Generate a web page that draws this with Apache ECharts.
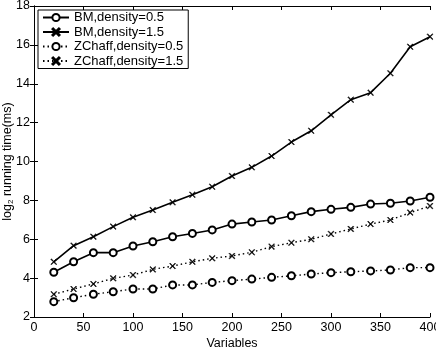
<!DOCTYPE html>
<html>
<head>
<meta charset="utf-8">
<script src="https://cdn.jsdelivr.net/npm/echarts@6/dist/echarts.min.js"></script>
<style>
html, body { margin: 0; padding: 0; background: #fff; }
#chart { width: 436px; height: 352px; }
</style>
</head>
<body>
<div id="chart"></div>
<script>
// number of variables
var variables = [20, 40, 60, 80, 100, 120, 140, 160, 180, 200, 220, 240, 260, 280, 300, 320, 340, 360, 380, 400];
// log2 running time (ms)
var bm05 = [4.30, 4.84, 5.31, 5.31, 5.65, 5.87, 6.13, 6.30, 6.48, 6.78, 6.89, 6.99, 7.21, 7.42, 7.54, 7.64, 7.81, 7.85, 7.97, 8.16];
var bm15 = [4.84, 5.67, 6.13, 6.65, 7.13, 7.50, 7.90, 8.29, 8.70, 9.25, 9.70, 10.28, 11.00, 11.58, 12.40, 13.18, 13.54, 14.54, 15.90, 16.42];
var zc05 = [2.79, 2.99, 3.17, 3.30, 3.44, 3.44, 3.65, 3.65, 3.78, 3.87, 3.95, 4.04, 4.12, 4.21, 4.28, 4.33, 4.37, 4.42, 4.54, 4.54];
var zc15 = [3.17, 3.44, 3.70, 3.99, 4.16, 4.45, 4.62, 4.84, 5.02, 5.14, 5.33, 5.62, 5.82, 6.00, 6.27, 6.53, 6.78, 6.99, 7.37, 7.71];
var names = ['BM,density=0.5', 'BM,density=1.5', 'ZChaff,density=0.5', 'ZChaff,density=1.5'];

var font = 'Liberation Sans, Arial, sans-serif';
var crossSym = 'path://M0,1L1,0L5,4L9,0L10,1L6,5L10,9L9,10L5,6L1,10L0,9L4,5Z';

function pairs(vals) {
    return vals.map(function (v, i) { return [variables[i], v]; });
}

function mkSeries(name, vals, dotted, cross) {
    return {
        name: name, type: 'line', data: pairs(vals),
        symbol: cross ? crossSym : 'emptyCircle',
        symbolSize: cross ? 6 : 7,
        showAllSymbol: true,
        lineStyle: { color: '#000', width: dotted ? 1.4 : 1.6, type: dotted ? [1.5, 3] : 'solid' },
        itemStyle: { color: '#000', borderColor: '#000', borderWidth: cross ? 0.5 : 1.8 },
        emphasis: { disabled: true },
        z: 3
    };
}

var myChart = echarts.init(document.getElementById('chart'), null, { renderer: 'canvas' });
var axisCommon = {
    axisLine: { lineStyle: { color: '#000', width: 1 } },
    axisTick: { inside: true, length: 4, lineStyle: { color: '#000' } },
    splitLine: { show: false }
};
var option = {
    animation: false,
    backgroundColor: '#fff',
    textStyle: { fontFamily: font, color: '#000' },
    grid: { left: 34, right: 6, top: 6, bottom: 35, containLabel: false, outerBoundsMode: 'none' },
    legend: {
        left: 38, top: 10, orient: 'vertical',
        itemWidth: 26, itemHeight: 9, itemGap: 1.5,
        padding: [1, 5, 1, 4],
        backgroundColor: '#fff', borderColor: '#000', borderWidth: 1,
        textStyle: { fontFamily: font, fontSize: 13, color: '#000' },
        data: names
    },
    xAxis: [
        Object.assign({
            type: 'value', min: 0, max: 400, interval: 50,
            name: 'Variables', nameLocation: 'middle', nameGap: 20, nameMoveOverlap: false,
            nameTextStyle: { fontSize: 12.5, fontFamily: font, color: '#000' },
            axisLabel: { fontSize: 12.5, color: '#000', margin: 4 }
        }, axisCommon),
        Object.assign({
            type: 'value', min: 0, max: 400, interval: 50, position: 'top',
            axisLabel: { show: false }
        }, axisCommon)
    ],
    yAxis: [
        Object.assign({
            type: 'value', min: 2, max: 18, interval: 2,
            name: '{a|log}{b|2}{a| running time(ms)}', nameLocation: 'middle', nameGap: 19, nameRotate: 90,
            nameMoveOverlap: false,
            nameTextStyle: {
                fontFamily: font, color: '#000',
                rich: {
                    a: { fontSize: 12.5, lineHeight: 14, fontFamily: font, color: '#000' },
                    b: { fontSize: 8, lineHeight: 8, verticalAlign: 'bottom', fontFamily: font, color: '#000' }
                }
            },
            axisLabel: { fontSize: 12.5, color: '#000', margin: 4 }
        }, axisCommon),
        Object.assign({
            type: 'value', min: 2, max: 18, interval: 2, position: 'right',
            axisLabel: { show: false }
        }, axisCommon)
    ],
    series: [
        mkSeries(names[0], bm05, false, false),
        mkSeries(names[1], bm15, false, true),
        mkSeries(names[2], zc05, true, false),
        mkSeries(names[3], zc15, true, true)
    ]
};
myChart.setOption(option);
</script>
</body>
</html>
